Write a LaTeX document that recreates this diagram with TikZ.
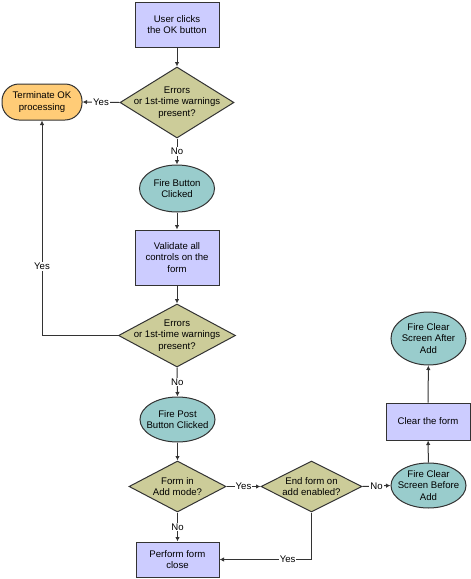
\documentclass[tikz,border=0pt]{standalone}
\usepackage{fontspec}
\setmainfont{Liberation Sans}
\usetikzlibrary{arrows.meta,shapes.geometric}
\definecolor{actblue}{HTML}{CCCCFF}
\definecolor{decolive}{HTML}{CCCC99}
\definecolor{firecyan}{HTML}{99CCCC}
\definecolor{termorange}{HTML}{FFCC77}
\definecolor{edgegray}{HTML}{333333}

\begin{document}
\begin{tikzpicture}[x=1pt, y=-1pt,
    font=\fontsize{9.6}{11.5}\selectfont,
    every node/.style={align=center},
    outline/.style={draw=edgegray, line width=1pt, inner sep=0pt},
    act/.style={outline, rectangle, fill=actblue, minimum width=84pt},
    dec/.style={outline, diamond, fill=decolive},
    fire/.style={outline, ellipse, fill=firecyan, minimum width=75pt},
    term/.style={outline, rectangle, rounded corners=17pt, fill=termorange},
    txt/.style={inner sep=0pt, align=center},
    arr/.style={draw=edgegray, line width=1pt, -{Latex[length=4.5pt,width=4.5pt]}},
    lab/.style={fill=white, inner sep=1pt}]
  \useasboundingbox (0,0) rectangle (471,579);

  \node[act, minimum height=45pt] (click) at (177,24.5) {User clicks\\the OK button};
  \node[dec, minimum width=114pt, minimum height=71pt,
    label={[txt]center:Errors\\or 1st-time warnings\\present?}] (errA) at (177,102.5) {};
  \node[term, minimum width=80pt, minimum height=36pt] (stop) at (42,102) {Terminate OK\\processing};
  \node[fire, minimum height=47pt, label={[txt]center:Fire Button\\Clicked}] (fireBtn) at (177,188.5) {};
  \node[act, minimum height=55pt] (valid) at (177,257.5) {Validate all\\controls on the\\form};
  \node[dec, minimum width=117pt, minimum height=63pt,
    label={[txt]center:Errors\\or 1st-time warnings\\present?}] (errB) at (177,335.5) {};
  \node[fire, minimum height=45pt, label={[txt]center:Fire Post\\Button Clicked}] (firePost) at (177.5,419.5) {};
  \node[dec, minimum width=97pt, minimum height=51pt,
    label={[txt]center:Form in\\Add mode?}] (addMode) at (177.5,486.5) {};
  \node[dec, minimum width=101pt, minimum height=51pt,
    label={[txt]center:End form on\\add enabled?}] (endForm) at (311.5,486.5) {};
  \node[fire, minimum height=45pt, label={[txt]center:Fire Clear\\Screen Before\\Add}] (clrBefore) at (428.5,485.5) {};
  \node[act, minimum height=37pt] (clear) at (428,421.5) {Clear the form};
  \node[fire, minimum height=53pt, label={[txt]center:Fire Clear\\Screen After\\Add}] (clrAfter) at (428.5,338.5) {};
  \node[act, minimum width=83pt, minimum height=35pt] (close) at (177.5,559.5) {Perform form\\close};

  \draw[arr] (click) -- (errA);
  \draw[arr] (errA.west) -- node[lab] {Yes} (stop.east);
  \draw[arr] (errA.south) -- node[lab] {No} (fireBtn.north);
  \draw[arr] (fireBtn) -- (valid);
  \draw[arr] (valid) -- (errB);
  \draw[arr] (errB.west) -| node[lab, pos=0.66] {Yes} (stop.south);
  \draw[arr] (errB.south) -- node[lab] {No} (firePost.north);
  \draw[arr] (firePost) -- (addMode);
  \draw[arr] (addMode.east) -- node[lab] {Yes} (endForm.west);
  \draw[arr] (endForm.east) -- node[lab] {No} (clrBefore.west);
  \draw[arr] (clrBefore) -- (clear);
  \draw[arr] (clear) -- (clrAfter);
  \draw[arr] (addMode.south) -- node[lab] {No} (close.north);
  \draw[arr] (endForm.south) |- node[lab, pos=0.63] {Yes} (close.east);
\end{tikzpicture}
\end{document}
